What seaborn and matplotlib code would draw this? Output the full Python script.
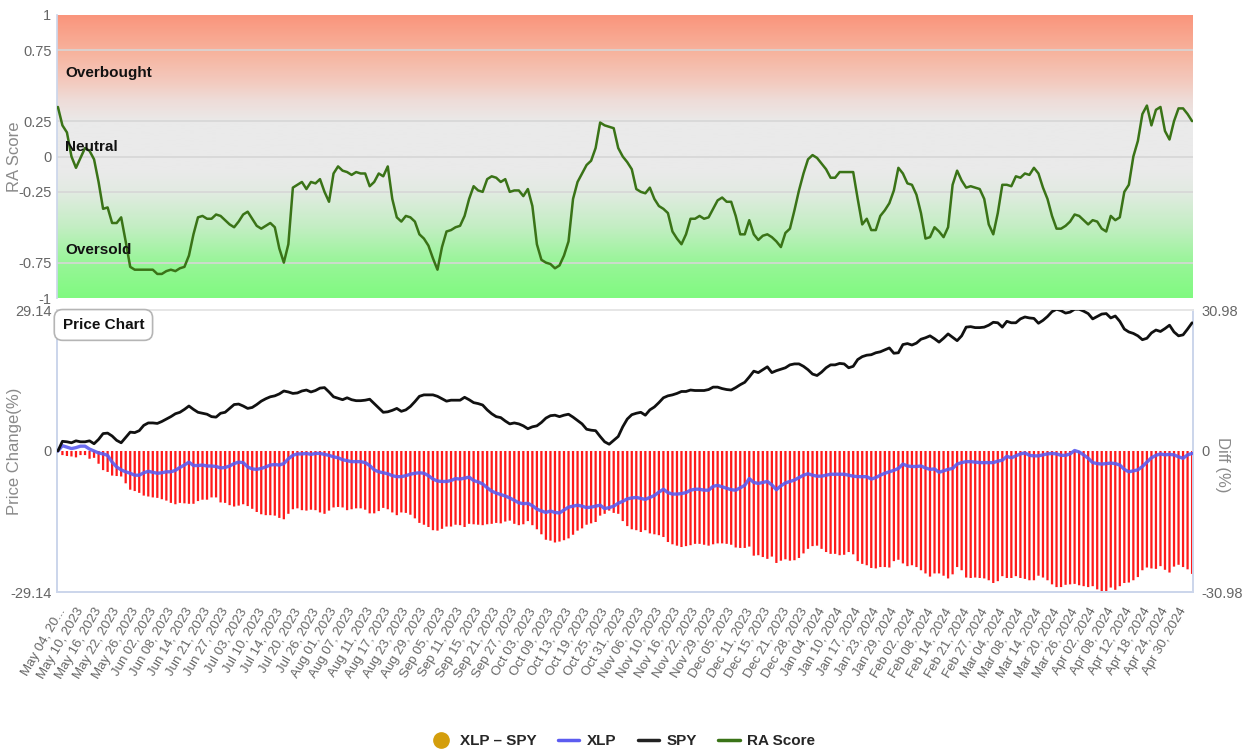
import numpy as np
import pandas as pd
import matplotlib.pyplot as plt
from matplotlib.colors import LinearSegmentedColormap
from matplotlib.lines import Line2D
import seaborn as sns

# RA score, one value per trading day (May 04 2023 -> May 03 2024)
ra_score = [
    0.35, 0.22, 0.17, 0.00, -0.08, -0.01, 0.06, 0.04, -0.02, -0.18,
    -0.37, -0.36, -0.47, -0.47, -0.43, -0.60, -0.78, -0.80, -0.80, -0.80,
    -0.80, -0.80, -0.83, -0.83, -0.81, -0.80, -0.81, -0.79, -0.78, -0.70,
    -0.55, -0.43, -0.42, -0.44, -0.44, -0.41, -0.42, -0.45, -0.48, -0.50,
    -0.46, -0.41, -0.39, -0.44, -0.49, -0.51, -0.49, -0.47, -0.50, -0.65,
    -0.75, -0.62, -0.22, -0.20, -0.18, -0.23, -0.18, -0.19, -0.16, -0.25,
    -0.32, -0.12, -0.07, -0.10, -0.11, -0.13, -0.11, -0.12, -0.12, -0.21,
    -0.18, -0.12, -0.14, -0.07, -0.30, -0.43, -0.46, -0.42, -0.43, -0.46,
    -0.55, -0.58, -0.63, -0.72, -0.80, -0.64, -0.53, -0.52, -0.50, -0.49,
    -0.42, -0.30, -0.21, -0.24, -0.25, -0.16, -0.14, -0.15, -0.18, -0.16,
    -0.25, -0.24, -0.24, -0.28, -0.23, -0.35, -0.62, -0.73, -0.75, -0.76,
    -0.79, -0.77, -0.70, -0.60, -0.30, -0.18, -0.12, -0.06, -0.03, 0.06,
    0.24, 0.22, 0.21, 0.20, 0.06, 0.00, -0.04, -0.09, -0.23, -0.25,
    -0.26, -0.22, -0.30, -0.35, -0.37, -0.40, -0.53, -0.58, -0.62, -0.55,
    -0.44, -0.44, -0.42, -0.44, -0.43, -0.37, -0.31, -0.29, -0.32, -0.32,
    -0.42, -0.55, -0.55, -0.45, -0.55, -0.59, -0.56, -0.55, -0.57, -0.60,
    -0.64, -0.54, -0.51, -0.38, -0.24, -0.12, -0.02, 0.01, -0.01, -0.05,
    -0.09, -0.15, -0.15, -0.11, -0.11, -0.11, -0.11, -0.30, -0.48, -0.44,
    -0.52, -0.52, -0.42, -0.38, -0.33, -0.24, -0.08, -0.12, -0.19, -0.20,
    -0.27, -0.40, -0.58, -0.57, -0.50, -0.53, -0.57, -0.50, -0.20, -0.10,
    -0.17, -0.22, -0.21, -0.22, -0.23, -0.30, -0.48, -0.55, -0.40, -0.20,
    -0.20, -0.21, -0.14, -0.15, -0.12, -0.13, -0.08, -0.12, -0.22, -0.30,
    -0.42, -0.51, -0.51, -0.49, -0.46, -0.41, -0.42, -0.45, -0.48, -0.45,
    -0.46, -0.51, -0.53, -0.42, -0.45, -0.43, -0.25, -0.20, 0.00, 0.11,
    0.30, 0.36, 0.22, 0.33, 0.35, 0.18, 0.12, 0.25, 0.34, 0.34,
    0.30, 0.25,
]

# SPY price change (%)
spy_change = [
    0.0, 2.0, 1.9, 1.7, 2.1, 1.9, 1.9, 2.1, 1.5, 2.4,
    3.6, 3.7, 3.1, 2.2, 1.7, 2.8, 3.9, 3.8, 4.2, 5.3,
    5.8, 5.8, 5.7, 6.1, 6.6, 7.1, 7.7, 8.0, 8.6, 9.3,
    8.6, 8.0, 7.8, 7.6, 7.1, 7.0, 7.8, 8.0, 8.8, 9.6,
    9.7, 9.3, 8.8, 9.0, 9.6, 10.3, 10.8, 11.2, 11.4, 11.8,
    12.4, 12.2, 11.9, 12.0, 12.4, 12.6, 12.2, 12.5, 13.0, 13.1,
    12.2, 11.2, 10.9, 10.6, 11.0, 10.6, 10.4, 10.4, 10.5, 10.7,
    9.8, 8.9, 8.0, 8.1, 8.4, 8.8, 8.2, 8.5, 9.2, 10.2,
    11.3, 11.6, 11.6, 11.6, 11.3, 10.8, 10.3, 10.5, 10.5, 10.5,
    11.1, 10.6, 10.0, 9.8, 9.5, 8.5, 7.7, 7.1, 6.9, 6.2,
    5.6, 5.8, 5.6, 5.2, 4.6, 5.0, 5.2, 5.9, 6.8, 7.3,
    7.4, 7.1, 7.4, 7.6, 7.0, 6.3, 5.6, 4.5, 4.3, 4.2,
    3.0, 1.9, 1.4, 2.2, 3.0, 5.0, 6.6, 7.5, 7.8, 8.0,
    7.4, 8.5, 9.1, 10.0, 11.0, 11.4, 11.6, 11.9, 12.3, 12.3,
    12.6, 12.5, 12.5, 12.5, 12.7, 13.2, 13.2, 12.9, 12.7, 12.6,
    13.1, 13.7, 14.2, 15.3, 16.5, 16.2, 16.8, 17.4, 16.2, 16.6,
    16.9, 17.2, 17.8, 18.0, 18.0, 17.5, 16.8, 15.9, 15.6, 16.3,
    17.2, 17.8, 17.8, 18.1, 18.0, 17.2, 17.5, 18.9, 19.5, 19.8,
    19.9, 20.3, 20.5, 20.9, 21.3, 20.2, 20.3, 22.0, 22.2, 21.9,
    22.3, 23.1, 23.4, 23.8, 23.2, 22.5, 23.3, 24.2, 23.5, 22.8,
    23.8, 25.6, 25.7, 25.5, 25.5, 25.6, 26.0, 26.6, 26.5, 25.6,
    26.8, 26.5, 26.5, 27.3, 27.7, 27.5, 27.4, 26.4, 27.0, 27.8,
    28.8, 29.3, 29.0, 28.5, 28.7, 29.3, 29.3, 28.9, 28.4, 27.3,
    27.8, 28.3, 28.4, 27.5, 27.9, 26.8, 25.2, 24.6, 24.3, 23.8,
    23.0, 23.3, 24.4, 25.0, 24.7, 25.3, 26.0, 24.6, 23.8, 24.0,
    25.2, 26.5,
]

# XLP price change (%)
xlp_change = [
    0.0, 1.1, 0.8, 0.5, 0.7, 1.0, 1.0, 0.4, 0.0, -0.4,
    -0.6, -0.9, -2.3, -3.3, -3.9, -4.3, -4.6, -5.0, -5.0, -4.5,
    -4.2, -4.4, -4.6, -4.5, -4.3, -4.3, -4.0, -3.4, -2.9, -2.3,
    -3.0, -3.0, -2.9, -3.1, -3.1, -3.2, -3.5, -3.4, -3.1, -2.6,
    -2.3, -2.4, -3.3, -3.7, -3.8, -3.6, -3.3, -2.9, -2.8, -2.9,
    -2.6, -1.6, -0.9, -0.6, -0.6, -0.5, -0.7, -0.5, -0.5, -0.7,
    -0.9, -1.2, -1.4, -1.8, -2.0, -2.2, -2.2, -2.2, -2.4, -3.0,
    -3.9, -4.3, -4.5, -4.7, -5.1, -5.3, -5.3, -5.1, -4.8, -4.6,
    -4.5, -4.6, -5.1, -5.8, -6.2, -6.3, -6.3, -6.1, -5.7, -5.8,
    -5.6, -5.4, -6.1, -6.4, -6.8, -7.6, -8.3, -8.7, -9.0, -9.3,
    -9.7, -10.2, -10.7, -10.9, -10.8, -11.3, -12.0, -12.4, -12.7, -12.4,
    -12.7, -12.8, -12.2, -11.6, -11.4, -11.2, -11.4, -11.7, -11.6, -11.4,
    -11.2, -11.9, -11.7, -11.4, -10.8, -10.4, -9.9, -9.7, -9.6, -9.8,
    -10.0, -9.6, -9.2, -8.5, -7.9, -8.6, -8.9, -8.9, -8.8, -8.6,
    -8.1, -7.9, -7.9, -8.1, -8.1, -7.3, -7.1, -7.4, -7.7, -8.0,
    -8.1, -7.6, -7.1, -5.7, -6.5, -6.7, -6.5, -6.3, -7.0, -8.0,
    -7.2, -6.6, -6.3, -6.0, -5.5, -5.0, -4.7, -5.0, -5.2, -5.2,
    -5.0, -4.8, -4.8, -4.8, -4.8, -5.0, -5.2, -5.3, -5.3, -5.3,
    -5.8, -5.5, -5.0, -4.6, -4.3, -4.0, -3.6, -2.7, -3.1, -3.2,
    -3.2, -3.1, -3.5, -3.8, -3.7, -4.4, -4.1, -3.8, -3.6, -2.7,
    -2.4, -2.2, -2.2, -2.3, -2.4, -2.4, -2.4, -2.4, -2.1, -1.9,
    -1.1, -1.4, -1.0, -0.6, -0.4, -0.9, -1.0, -1.0, -0.8, -0.6,
    -0.5, -0.6, -0.9, -0.9, -0.6, 0.1, -0.2, -0.8, -1.5, -2.4,
    -2.6, -2.7, -2.6, -2.5, -2.6, -2.9, -3.8, -4.3, -4.1, -3.9,
    -3.2, -2.3, -1.4, -0.9, -0.6, -0.8, -0.7, -0.8, -1.2, -1.5,
    -0.8, -0.5,
]

# every 4th trading day is labelled
tick_labels = [
    "May 04, 20...", "May 10, 2023", "May 16, 2023", "May 22, 2023", "May 26, 2023",
    "Jun 02, 2023", "Jun 08, 2023", "Jun 14, 2023", "Jun 21, 2023", "Jun 27, 2023",
    "Jul 03, 2023", "Jul 10, 2023", "Jul 14, 2023", "Jul 20, 2023", "Jul 26, 2023",
    "Aug 01, 2023", "Aug 07, 2023", "Aug 11, 2023", "Aug 17, 2023", "Aug 23, 2023",
    "Aug 29, 2023", "Sep 05, 2023", "Sep 11, 2023", "Sep 15, 2023", "Sep 21, 2023",
    "Sep 27, 2023", "Oct 03, 2023", "Oct 09, 2023", "Oct 13, 2023", "Oct 19, 2023",
    "Oct 25, 2023", "Oct 31, 2023", "Nov 06, 2023", "Nov 10, 2023", "Nov 16, 2023",
    "Nov 22, 2023", "Nov 29, 2023", "Dec 05, 2023", "Dec 11, 2023", "Dec 15, 2023",
    "Dec 21, 2023", "Dec 28, 2023", "Jan 04, 2024", "Jan 10, 2024", "Jan 17, 2024",
    "Jan 23, 2024", "Jan 29, 2024", "Feb 02, 2024", "Feb 08, 2024", "Feb 14, 2024",
    "Feb 21, 2024", "Feb 27, 2024", "Mar 04, 2024", "Mar 08, 2024", "Mar 14, 2024",
    "Mar 20, 2024", "Mar 26, 2024", "Apr 02, 2024", "Apr 08, 2024", "Apr 12, 2024",
    "Apr 18, 2024", "Apr 24, 2024", "Apr 30, 2024",
]

ra_ticks = [1, 0.75, 0.25, 0, -0.25, -0.75, -1]
ra_tick_text = ["1", "0.75", "0.25", "0", "-0.25", "-0.75", "-1"]
price_lim = 29.14
diff_lim = 30.98

sns.set_theme(style='white')
plt.rcParams['font.family'] = ['Liberation Sans Narrow', 'Liberation Sans', 'DejaVu Sans']

df = pd.DataFrame({
    'day': np.arange(len(ra_score)),
    'RA Score': ra_score,
    'SPY': spy_change,
    'XLP': xlp_change,
})
df['XLP - SPY'] = df['XLP'] - df['SPY']

W, H = 1246, 756
fig = plt.figure(figsize=(W / 100, H / 100), dpi=100)
ax_ra = fig.add_axes([57 / W, 1 - 298 / H, 1136 / W, 283 / H])
ax_px = fig.add_axes([57 / W, 1 - 592 / H, 1136 / W, 282 / H])
ax_diff = ax_px.twinx()

xlim = (-0.2, len(ra_score) - 0.8)
grey = '#666666'
label_grey = '#8a8a8a'
edge = '#ccd6eb'

# --- RA score panel with gradient background ---
cmap = LinearSegmentedColormap.from_list('ra_bg', [
    (0.0, '#80fa80'), (0.125, '#98f598'), (0.25, '#c3eec3'), (0.375, '#e2ebe2'),
    (0.45, '#eaeaea'), (0.62, '#eaeaea'), (0.70, '#eedcd8'), (0.76, '#f3cbc0'),
    (0.875, '#f7b29c'), (1.0, '#fa957c'),
])
grad = np.linspace(0, 1, 256).reshape(-1, 1)
ax_ra.imshow(grad, cmap=cmap, origin='lower', aspect='auto',
             extent=[xlim[0], xlim[1], -1, 1], zorder=0)
for v in [0.75, 0.25, 0, -0.25, -0.75]:
    ax_ra.axhline(v, color='#d6d6d6', lw=1.2, zorder=1)
sns.lineplot(data=df, x='day', y='RA Score', ax=ax_ra, color='#3a7317', lw=1.8, zorder=3)
ax_ra.set_xlim(*xlim)
ax_ra.set_ylim(-1, 1)
ax_ra.set_yticks(ra_ticks)
ax_ra.set_yticklabels(ra_tick_text)
ax_ra.set_xticks([])
ax_ra.set_xlabel('')
ax_ra.set_ylabel('RA Score', color=label_grey, fontsize=12)
ax_ra.yaxis.set_label_coords(-0.031, 0.5)
ax_ra.tick_params(axis='y', length=0, labelsize=10.5, labelcolor=grey, pad=4)
for s in ['top', 'right', 'bottom']:
    ax_ra.spines[s].set_visible(False)
ax_ra.spines['left'].set_color(edge)

for label, yv in [('Overbought', 0.59), ('Neutral', 0.07), ('Oversold', -0.66)]:
    ax_ra.text(0.007, yv, label, transform=ax_ra.get_yaxis_transform(),
               fontsize=11, fontweight='bold', color='#111111', va='center', zorder=4)

# --- price panel ---
ax_px.set_zorder(ax_diff.get_zorder() + 1)
ax_px.patch.set_visible(False)

ax_diff.bar(df['day'], df['XLP - SPY'], width=0.5, color='#ff1a1a', lw=0,
            snap=False, zorder=1)
ax_diff.set_ylim(-diff_lim, diff_lim)
ax_diff.set_yticks([diff_lim, 0, -diff_lim])
ax_diff.set_yticklabels(['30.98', '0', '-30.98'])
ax_diff.tick_params(axis='y', length=0, labelsize=10.5, labelcolor=grey, pad=6)
ax_diff.set_ylabel('Diff (%)', color=label_grey, fontsize=12, rotation=270, va='center')
ax_diff.yaxis.set_label_coords(1.026, 0.45)

sns.lineplot(data=df, x='day', y='XLP', ax=ax_px, color='#5c5cf0', lw=2.4, alpha=0.9, zorder=3)
sns.lineplot(data=df, x='day', y='SPY', ax=ax_px, color='#111111', lw=2.0, zorder=4)
ax_px.set_xlim(*xlim)
ax_px.set_ylim(-price_lim, price_lim)
ax_px.set_yticks([price_lim, 0, -price_lim])
ax_px.set_yticklabels(['29.14', '0', '-29.14'])
ax_px.tick_params(axis='y', length=0, labelsize=10.5, labelcolor=grey, pad=4)
ax_px.set_ylabel('Price Change(%)', color=label_grey, fontsize=12)
ax_px.yaxis.set_label_coords(-0.031, 0.5)
ax_px.set_xlabel('')
ax_px.set_xticks(range(0, len(ra_score), 4))
ax_px.set_xticklabels(tick_labels, rotation=60, ha='right', rotation_mode='anchor')
ax_px.tick_params(axis='x', length=0, labelsize=9.5, labelcolor=grey, pad=10)

for a in (ax_px, ax_diff):
    for s in ['left', 'right', 'bottom']:
        a.spines[s].set_color(edge)
    a.spines['top'].set_color('#e6e6e6')

ax_px.text(0.005, 0.947, 'Price Chart', transform=ax_px.transAxes, fontsize=11,
           fontweight='bold', color='#111111', va='center', ha='left', zorder=6,
           bbox=dict(boxstyle='round,pad=0.55', fc='white', ec='#b5b5b5', lw=1.2))

# --- legend ---
handles = [
    Line2D([], [], ls='none', marker='o', markersize=11, color='#d49e0c'),
    Line2D([], [], color='#5c5cf0', lw=2.5),
    Line2D([], [], color='#222222', lw=2.5),
    Line2D([], [], color='#3a7317', lw=2.5),
]
fig.legend(handles, ['XLP – SPY', 'XLP', 'SPY', 'RA Score'], loc='center',
           bbox_to_anchor=(0.5, 1 - 741 / H), ncol=4, frameon=False,
           handlelength=1.4, columnspacing=1.4, handletextpad=0.5,
           prop={'weight': 'bold', 'size': 11})

fig.savefig('out.png', dpi=100)
